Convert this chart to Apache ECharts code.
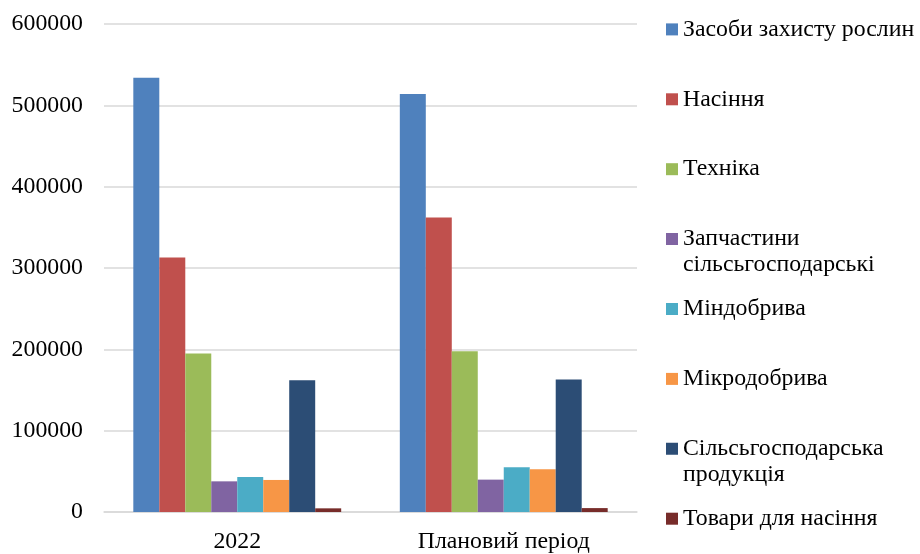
<!DOCTYPE html>
<html>
<head>
<meta charset="utf-8">
<script src="https://cdn.jsdelivr.net/npm/echarts@6/dist/echarts.min.js"></script>
<style>
  html, body { margin: 0; padding: 0; background: #fff; }
  #chart { width: 920px; height: 554px; }
</style>
</head>
<body>
<div id="chart"></div>
<script>
// Categories on the x axis
const categories = ['2022', 'Плановий період'];

// Series names (legend order) and their values per category
const seriesNames = [
  'Засоби захисту рослин',
  'Насіння',
  'Техніка',
  'Запчастини\nсільсьгосподарські',
  'Міндобрива',
  'Мікродобрива',
  'Сільсьгосподарська\nпродукція',
  'Товари для насіння'
];
const zasobyZakhystu = [534000, 514000];
const nasinnia = [313000, 362000];
const tekhnika = [195000, 197500];
const zapchastyny = [37700, 39800];
const mindobryva = [43000, 55000];
const mikrodobryva = [39400, 52500];
const produktsiia = [162000, 162800];
const tovaryNasinnia = [4500, 4800];

const seriesValues = [
  zasobyZakhystu, nasinnia, tekhnika, zapchastyny,
  mindobryva, mikrodobryva, produktsiia, tovaryNasinnia
];
const colors = ['#4F81BD', '#C0504D', '#9BBB59', '#8064A2',
                '#4BACC6', '#F79646', '#2C4D75', '#772C2A'];

const font = '"Liberation Serif", "Times New Roman", serif';
const fontSize = 23.8;
const lineH = 26;

// One legend block per series so every entry sits on an even 70px step,
// with the swatch level with the first line of a two-line name.
const legends = seriesNames.map((name, i) => {
  const twoLines = name.indexOf('\n') >= 0;
  return {
    orient: 'vertical',
    left: 666,
    top: 16.4 + 69.9 * i,
    padding: 0,
    itemWidth: 12,
    itemHeight: twoLines ? 12 + lineH : 12,
    icon: twoLines ? 'path://M0,0H12V12H0Z M0,38L12,38' : 'rect',
    data: [name],
    textStyle: {
      fontFamily: font,
      fontSize: fontSize,
      color: '#000',
      lineHeight: lineH
    }
  };
});

const chart = echarts.init(document.getElementById('chart'), null, { renderer: 'canvas' });
chart.setOption({
  animation: false,
  backgroundColor: '#ffffff',
  color: colors,
  grid: { left: 104, right: 283, top: 24, bottom: 42, containLabel: false },
  legend: legends,
  xAxis: {
    type: 'category',
    data: categories,
    axisLine: { lineStyle: { color: '#d9d9d9', width: 1.5 } },
    axisTick: { show: false },
    axisLabel: { fontFamily: font, fontSize: fontSize, color: '#000', margin: 18 }
  },
  yAxis: {
    type: 'value',
    min: 0,
    max: 600000,
    interval: 100000,
    axisLine: { show: false },
    axisTick: { show: false },
    splitLine: { lineStyle: { color: '#d9d9d9', width: 1.5 } },
    axisLabel: {
      fontFamily: font, fontSize: fontSize, color: '#000', margin: 21,
      formatter: (v) => String(v)
    }
  },
  series: seriesNames.map((name, i) => ({
    name: name,
    type: 'bar',
    data: seriesValues[i],
    barGap: '0%',
    barCategoryGap: '22%',
    itemStyle: { color: colors[i] }
  }))
});
</script>
</body>
</html>
